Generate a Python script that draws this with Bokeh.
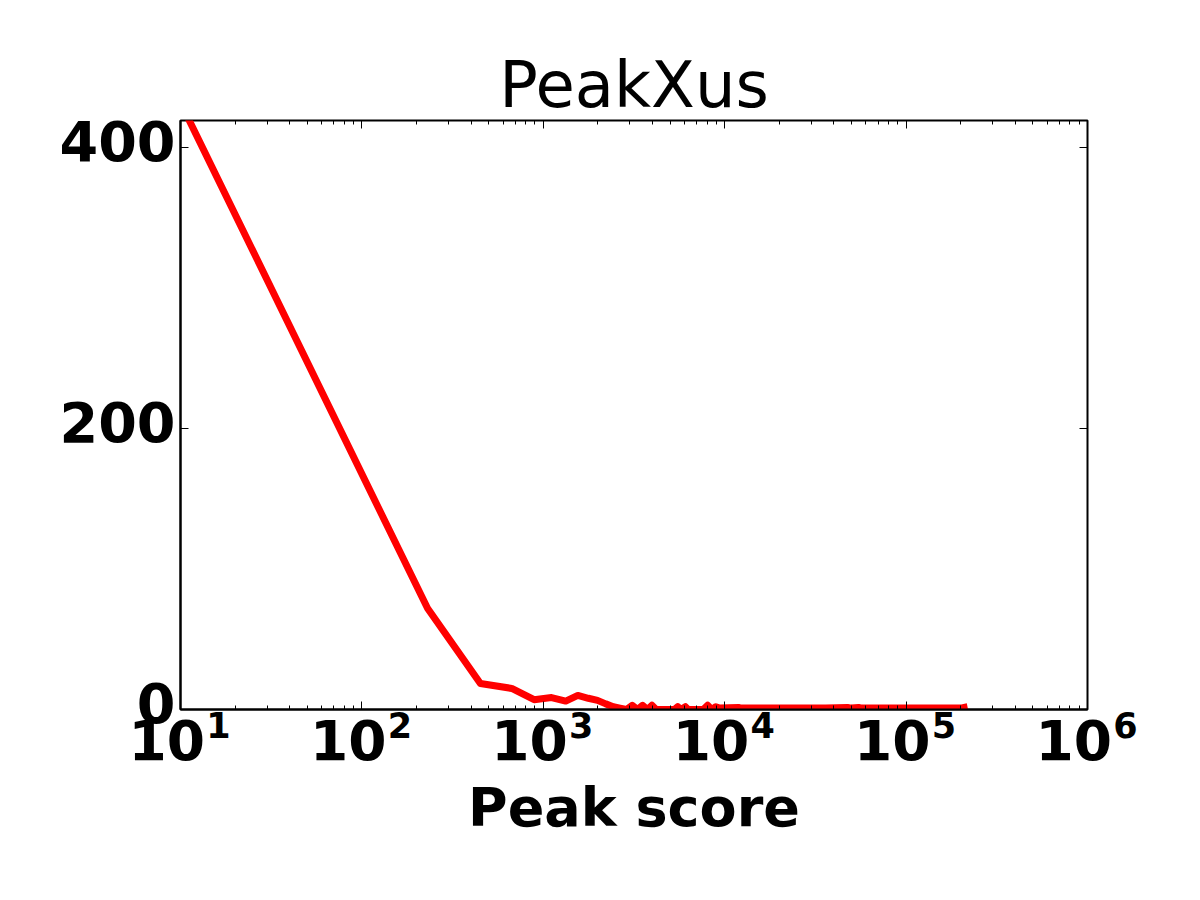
from bokeh.plotting import figure
from bokeh.models import Range1d, FixedTicker, LinearAxis, LogAxis, CustomJSTickFormatter
from bokeh.embed import file_html
from bokeh.resources import INLINE

# ---- data ----
peak_score = [10, 230, 450, 670, 890, 1110, 1330, 1550, 1770, 1990, 2210, 2430,
              2650, 2870, 3090, 3310, 3530, 3750, 3970, 4190, 4630, 5290, 5510,
              5730, 6070, 6290, 7610, 8050, 8490, 8930, 9370, 11900, 12300,
              14000, 20000, 27000, 36000, 47500, 50000, 54700, 57000, 80000,
              120000, 200000, 218000]
count = [432, 72, 18.5, 15, 7, 8.5, 6, 10, 8, 6.5, 4, 2,
         1, 0, 3, 0, 3, 0, 3, 0, 0, 0, 2,
         0, 2, 0, 0, 3, 0, 2, 1, 1.5, 1,
         1, 1, 1, 1, 1.5, 1, 1.5, 1, 1,
         1, 1, 2]

x_tick_exponents = [1, 2, 3, 4, 5, 6]
y_ticks = [0, 200, 400]
title_text = "PeakXus"
x_label_text = "Peak score"

FONT = "DejaVu Sans"
Y_MAX = 419.2
LABEL_SHIFT = 4.3   # y tick labels sit a few pixels above their ticks, as in the reference

p = figure(frame_width=907, frame_height=589,
           min_border_left=180, min_border_top=120,
           min_border_right=105, min_border_bottom=183,
           x_axis_type="log", x_range=Range1d(10, 1e6), y_range=Range1d(0, Y_MAX),
           output_backend="svg", toolbar_location=None)
p.extra_y_ranges = {"ylab": Range1d(-LABEL_SHIFT, Y_MAX - LABEL_SHIFT)}

p.grid.visible = False
p.outline_line_color = "black"
p.outline_line_width = 2
p.background_fill_color = "white"
p.border_fill_color = "white"

major_x = [10 ** k for k in x_tick_exponents]
minor_x = [m * 10 ** k for k in x_tick_exponents[:-1] for m in range(2, 10)]
xticker = FixedTicker(ticks=major_x, minor_ticks=minor_x)
yticker = FixedTicker(ticks=y_ticks)

def style_axis(ax, labels=True, minor=True, ticks=True):
    ax.axis_line_color = "black"
    ax.axis_line_width = 2
    ax.major_tick_in = 8
    ax.major_tick_out = 0
    ax.major_tick_line_width = 1
    ax.major_tick_line_color = "black" if ticks else None
    if minor and ticks:
        ax.minor_tick_in = 4
        ax.minor_tick_out = 0
        ax.minor_tick_line_color = "black"
    else:
        ax.minor_tick_line_color = None
    if not labels:
        ax.major_label_text_color = None
        ax.major_label_text_font_size = "1px"
        ax.major_label_standoff = 0

# bottom axis nearest the frame: ticks + superscript exponents
# (labels are centred on the tick; the leading blank pushes the digit to the right)
xa = p.xaxis[0]
xa.ticker = xticker
style_axis(xa)
xa.formatter = CustomJSTickFormatter(
    code="return '\\u2003\\u2003\\u2006' + String(Math.round(Math.log10(tick)));")
xa.major_label_text_font = FONT
xa.major_label_text_font_size = "35px"
xa.major_label_text_font_style = "bold"
xa.major_label_text_color = "black"
xa.major_label_standoff = -4

# second bottom axis: the "10" bases and the axis title
xb = LogAxis(ticker=FixedTicker(ticks=major_x))
style_axis(xb, ticks=False)
xb.axis_line_color = None
xb.formatter = CustomJSTickFormatter(code="return '10\\u2002';")
xb.major_label_text_font = FONT
xb.major_label_text_font_size = "55px"
xb.major_label_text_font_style = "bold"
xb.major_label_text_color = "black"
xb.major_label_standoff = -40
xb.axis_label = x_label_text
xb.axis_label_text_font = FONT
xb.axis_label_text_font_size = "54px"
xb.axis_label_text_font_style = "bold"
xb.axis_label_text_color = "black"
xb.axis_label_standoff = 0
p.add_layout(xb, "below")

# left axis: ticks only (nearest the frame)
ya = p.yaxis[0]
ya.ticker = yticker
style_axis(ya, labels=False, minor=False)

# left axis: labels only
yl = LinearAxis(y_range_name="ylab", ticker=yticker)
style_axis(yl, labels=True, minor=False, ticks=False)
yl.axis_line_color = None
yl.major_label_text_font = FONT
yl.major_label_text_font_size = "55.6px"
yl.major_label_text_font_style = "bold"
yl.major_label_text_color = "black"
yl.major_label_standoff = 5
p.add_layout(yl, "left")

# top and right axes (ticks only)
top = LogAxis(ticker=xticker)
style_axis(top, labels=False)
top.axis_line_color = None
p.add_layout(top, "above")

right = LinearAxis(ticker=yticker)
style_axis(right, labels=False, minor=False)
right.axis_line_color = None
p.add_layout(right, "right")

# title
p.title.text = title_text
p.title.align = "center"
p.title.text_font = FONT
p.title.text_font_size = "64px"
p.title.text_font_style = "normal"
p.title.text_color = "black"
p.title.standoff = -3

# data line
p.line(peak_score, count, line_color="#ff0000", line_width=7, line_join="round")

open("out.html", "w").write(file_html(p, INLINE))
